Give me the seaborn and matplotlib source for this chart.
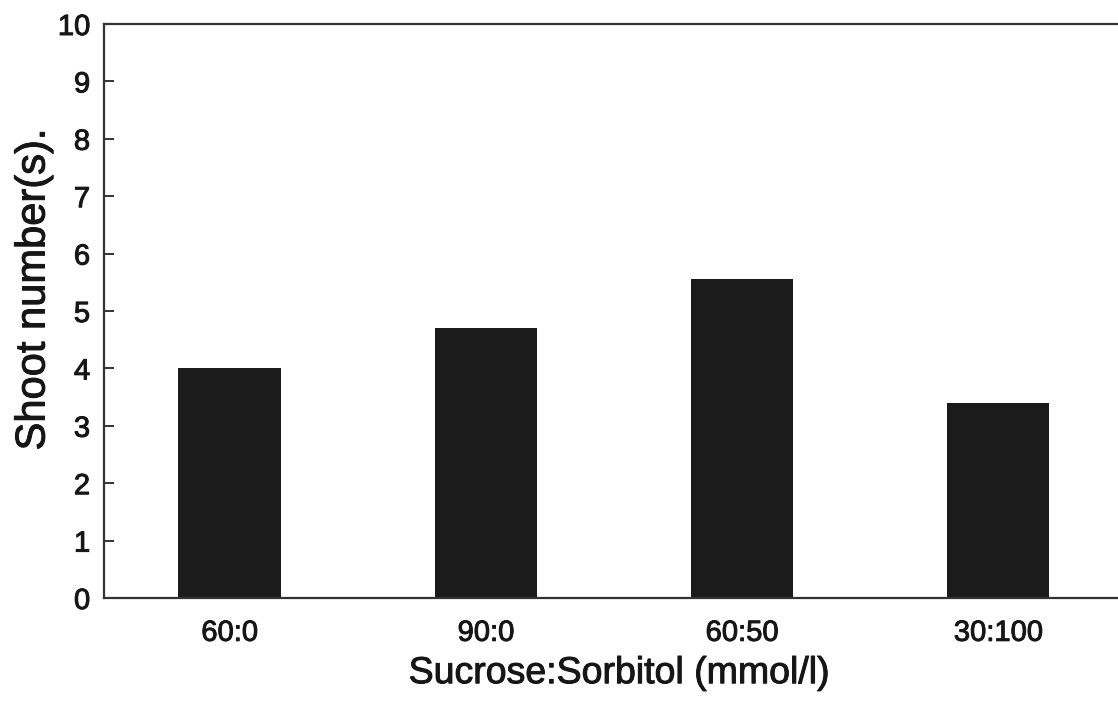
import matplotlib
matplotlib.use("Agg")
import matplotlib.pyplot as plt
import matplotlib.patheffects as pe
import seaborn as sns
import pandas as pd

# Sucrose:Sorbitol ratios and mean shoot numbers
ratios = ["60:0", "90:0", "60:50", "30:100"]
shoots = [4.0, 4.7, 5.56, 3.4]
y_ticks = list(range(0, 11))

sns.set_theme(style="white")
plt.rcParams["font.family"] = ["Liberation Sans", "DejaVu Sans"]

INK = "#161616"
heavy = [pe.withStroke(linewidth=0.7, foreground=INK)]

df = pd.DataFrame({"ratio": ratios, "shoots": shoots})

fig = plt.figure(figsize=(11.18, 7.03), dpi=100)
W, H = 1118, 703
# axes runs off the right edge of the page
ax = fig.add_axes([104 / W, (H - 598) / H, 1030 / W, (598 - 24) / H])

sns.barplot(data=df, x="ratio", y="shoots", color="#1b1b1b", saturation=1,
            width=0.4, ax=ax, edgecolor="none")

ax.set_ylim(0, 10)
ax.set_xlim(-0.49, 3.53)
ax.set_yticks(y_ticks)
ax.set_yticklabels([str(t) for t in y_ticks])

for side in ["left", "bottom", "top", "right"]:
    ax.spines[side].set_visible(True)
    ax.spines[side].set_color("#333333")
    ax.spines[side].set_linewidth(1.6)

ax.tick_params(axis="y", direction="in", length=7, width=1.4, color="#333333",
               labelsize=21, pad=10, labelcolor=INK, left=True)
ax.tick_params(axis="x", length=0, labelsize=21, pad=15, labelcolor=INK)
for lab in ax.get_xticklabels() + ax.get_yticklabels():
    lab.set_path_effects(heavy)

ax.set_xlabel("Sucrose:Sorbitol (mmol/l)", fontsize=27, color=INK, labelpad=6,
              path_effects=heavy)
ax.set_ylabel("Shoot number(s).", fontsize=30, color=INK, path_effects=heavy)
ax.yaxis.set_label_coords(-0.049, 0.537)

fig.savefig("out.png", dpi=100, facecolor="white")
